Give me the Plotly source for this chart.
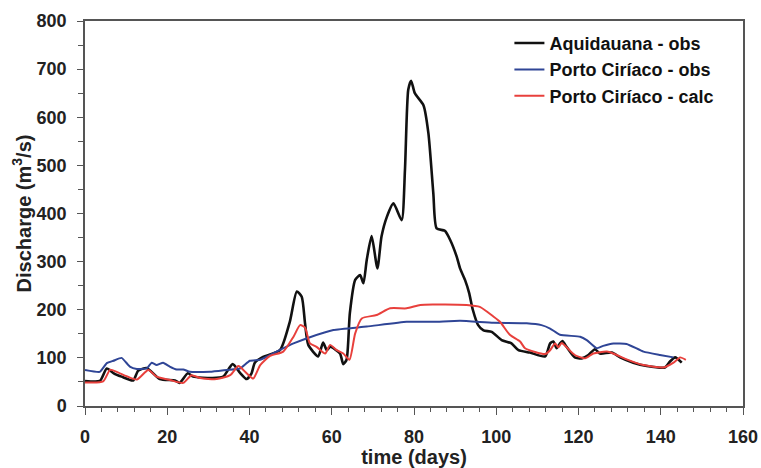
import plotly.graph_objects as go

# Aquidauana - obs
aq_days = [0, 3.6, 5.3, 7, 8.9, 11.7, 12.9, 15, 18.2, 21.9, 23, 25, 26.3, 31, 33.6, 35.9, 37.7, 39.3, 40.5, 41.3,
           43.3, 47.4, 49.8, 51.5, 52.7, 53.5, 54.3, 56.7, 57.9, 58.8, 59.6, 62, 62.8, 63.6, 64.4, 65.7, 66.9, 67.7,
           68.5, 69.7, 71.1, 72.1, 73.4, 75, 77, 77.8, 78.6, 79.3, 80.2, 82.3, 83.5, 84.7, 85.5, 87.5, 88.8, 90.4,
           91.2, 92.4, 93.4, 94.3, 95.6, 96.9, 98.9, 101.3, 103.7, 105.4, 108.2, 111.9, 113.1, 113.9, 114.7, 115.5,
           116.1, 117.1, 119.1, 120.8, 122.4, 124, 125.2, 128.1, 130.1, 133.3, 136.6, 141, 142.2, 143.5, 145.1]
aq_vals = [52, 52, 78, 68, 61, 53, 73, 79, 56, 53, 48, 68, 61, 58, 61, 87, 69, 56, 68, 90,
           102, 116, 175, 238, 227, 172, 127, 103, 132, 116, 123, 109, 87, 96, 193, 262, 272, 255,
           303, 353, 286, 352, 393, 421, 386, 490, 657, 676, 650, 625, 567, 442, 369, 364, 345, 310,
           286, 262, 235, 200, 168, 157, 154, 137, 130, 116, 111, 103, 130, 134, 120, 130,
           135, 123, 101, 99, 106, 118, 109, 111, 101, 90, 83, 80, 92, 101, 90]

# Porto Ciríaco - obs
po_days = [0, 3.6, 5.3, 6.9, 8.9, 10.9, 12.6, 15, 16.2, 17.4, 19, 20.6, 22.3, 23.9, 25.5, 30.4, 34.5, 37.7, 40.1,
           42.6, 46.6, 50.7, 54.7, 60.4, 68.5, 78.2, 84.7, 91.2, 99.3, 107.4, 111, 113.1, 115.5, 120.4, 122,
           124.4, 126, 128.5, 131.7, 135.8, 139.8, 143.1]
po_vals = [75, 71, 89, 94, 100, 82, 77, 78, 90, 85, 90, 82, 76, 76, 71, 71, 75, 78, 94,
           96, 113, 130, 143, 158, 165, 175, 175, 177, 173, 172, 168, 161, 148, 144, 137,
           120, 125, 130, 129, 113, 106, 101]

# Porto Ciríaco - calc
pc_days = [0, 4.4, 6.1, 7.7, 10.1, 12.6, 15.4, 17.4, 20.7, 23.9, 25.9, 28, 32, 35.3, 37.3, 39.3, 40.9, 42.6, 45,
           48.2, 50.7, 52.3, 53.5, 54.7, 56.3, 58.4, 59.6, 61.2, 62.8, 64.3, 65.7, 67.3, 70.9, 74.2, 78.2, 81.5,
           84.7, 92.8, 96, 99.3, 100.9, 103.3, 105.8, 107, 111.9, 113.1, 114.3, 115.1, 115.9, 117.1, 119.1,
           121.6, 123.6, 126.9, 129.3, 131.7, 135.8, 140.6, 143.1, 144.7, 146.1]
pc_vals = [49, 51, 75, 71, 62, 55, 75, 61, 54, 48, 64, 58, 56, 64, 83, 68, 57, 85, 104,
           113, 144, 168, 163, 130, 123, 109, 127, 116, 109, 96, 151, 182, 189, 203, 203, 210,
           211, 210, 206, 186, 175, 148, 134, 120, 108, 116, 130, 122, 131, 122, 106,
           99, 109, 113, 106, 97, 85, 80, 90, 101, 96]

x_ticks = [0, 20, 40, 60, 80, 100, 120, 140, 160]
y_ticks = [0, 100, 200, 300, 400, 500, 600, 700, 800]

FONT = "Liberation Sans, Arial, sans-serif"

fig = go.Figure()
fig.add_trace(go.Scatter(x=aq_days, y=aq_vals, mode="lines", name="Aquidauana - obs",
                         line=dict(color="#111111", width=2.6, shape="spline", smoothing=0.6)))
fig.add_trace(go.Scatter(x=po_days, y=po_vals, mode="lines", name="Porto Ciríaco - obs",
                         line=dict(color="#2f4596", width=2, shape="spline", smoothing=0.4)))
fig.add_trace(go.Scatter(x=pc_days, y=pc_vals, mode="lines", name="Porto Ciríaco - calc",
                         line=dict(color="#e8403c", width=2, shape="spline", smoothing=0.6)))

axis_common = dict(showline=True, linecolor="#555555", linewidth=1.5, mirror=True, showgrid=False,
                   zeroline=False, ticks="outside", tickcolor="#555555", tickwidth=1.2,
                   tickfont=dict(family=FONT, size=18, color="#222222", weight="bold"))

fig.update_layout(
    width=761, height=468,
    margin=dict(l=85, r=18, t=21, b=62, autoexpand=False),
    paper_bgcolor="white", plot_bgcolor="white",
    font=dict(family=FONT, color="#222222"),
    showlegend=True,
    legend=dict(x=0.645, y=0.99, xanchor="left", yanchor="top", bgcolor="rgba(0,0,0,0)",
                font=dict(family=FONT, size=18, color="#111111", weight="bold"),
                itemwidth=30, tracegroupgap=0),
    xaxis=dict(range=[0, 160], tickvals=x_ticks, ticktext=[str(v) for v in x_ticks], ticklen=7,
               ticklabelstandoff=7,
               minor=dict(dtick=4, tick0=0, ticks="outside", ticklen=4, tickcolor="#555555", tickwidth=1),
               title=dict(text="time (days)", font=dict(family=FONT, size=20, color="#222222", weight="bold"),
                          standoff=0),
               **axis_common),
    yaxis=dict(range=[0, 800], tickvals=y_ticks, ticktext=[str(v) for v in y_ticks], ticklen=6,
               ticklabelstandoff=7,
               minor=dict(dtick=50, tick0=0, ticks="outside", ticklen=5, tickcolor="#555555", tickwidth=1),
               title=dict(text="Discharge (m<sup>3</sup>/s)",
                          font=dict(family=FONT, size=20, color="#222222", weight="bold"), standoff=0),
               **axis_common),
)

fig.write_html("out.html", config={"displayModeBar": False},
               post_script="document.body.style.margin='0';document.body.style.overflow='hidden';")
